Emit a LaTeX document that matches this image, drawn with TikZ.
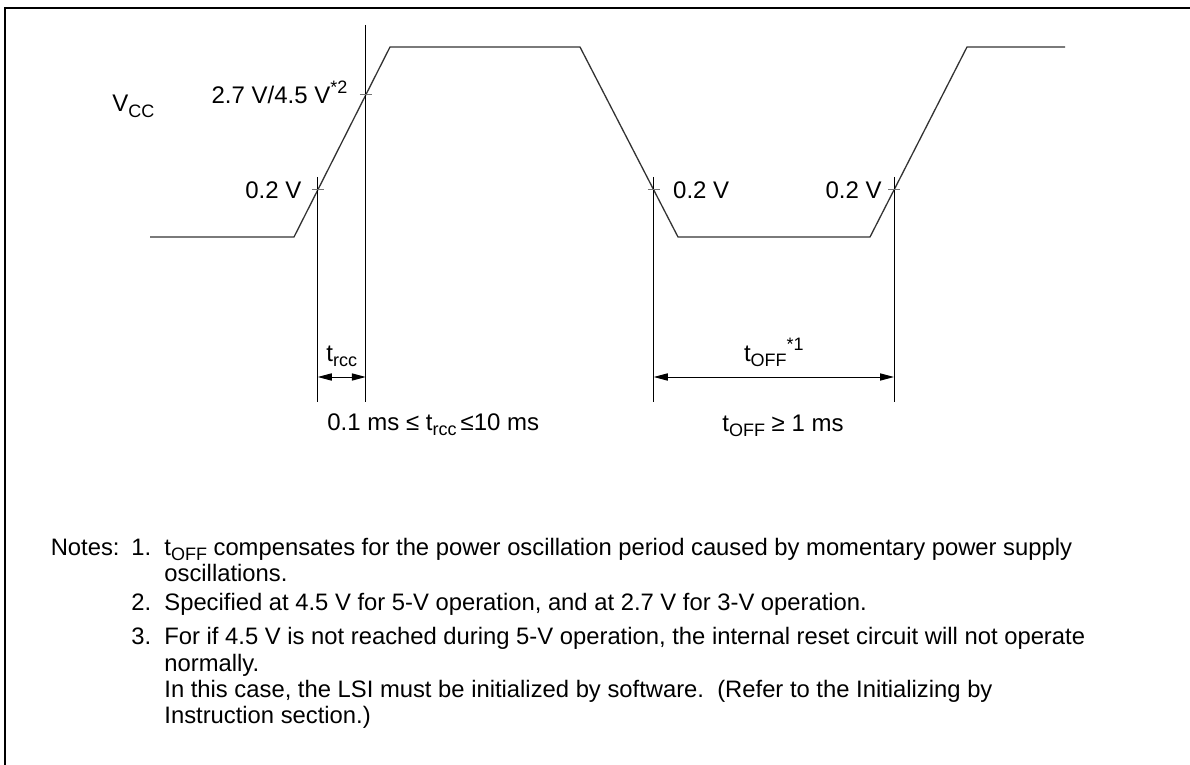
\documentclass[tikz,border=0pt]{standalone}
\usepackage{fontspec}
\setmainfont{Liberation Sans}
\usetikzlibrary{arrows.meta, positioning, calc}
\newcommand\lo[1]{\raisebox{-0.22em}{\fontsize{9}{9}\selectfont #1}}
\newcommand\hi[1]{\raisebox{0.42em}{\fontsize{9}{9}\selectfont #1}}

\begin{document}
\begin{tikzpicture}[x=0.5pt, y=-0.5pt,
    lbl/.style={font=\fontsize{12}{14}\selectfont, inner sep=0pt},
    note/.style={font=\fontsize{11.9}{14}\selectfont, anchor=base west, inner sep=0pt},
    wave/.style={line width=0.65pt, black!80},
    guide/.style={line width=0.5pt},
    tickmark/.style={line width=0.5pt, black!55},
    dim/.style={line width=0.5pt, {Triangle[length=7pt,width=3.6pt]}-{Triangle[length=7pt,width=3.6pt]}}]
  \useasboundingbox (0,0) rectangle (1190,765);
  % Frame (only top and left edges show)
  \draw[line width=0.75pt] (5,765) -- (5,8) -- (1190,8);
  % Vcc waveform
  \coordinate (w0) at (150,237);
  \coordinate (w1) at (294,237);
  \coordinate (w2) at (390,47);
  \coordinate (w3) at (580,47);
  \coordinate (w4) at (678,237);
  \coordinate (w5) at (870,237);
  \coordinate (w6) at (967,47);
  \coordinate (w7) at (1065,47);
  \draw[wave] (w0) -- (w1) -- (w2) -- (w3) -- (w4) -- (w5) -- (w6) -- (w7);
  % Level crossings
  \coordinate (riseLo) at ($(w1)!0.2474!(w2)$);
  \coordinate (riseHi) at ($(w1)!0.7474!(w2)$);
  \coordinate (fallLo) at ($(w3)!0.7526!(w4)$);
  \coordinate (riseLo2) at ($(w5)!0.2474!(w6)$);
  % Guide lines
  \coordinate (gbot) at (0,402);
  \coordinate (dimY) at (0,377);
  \draw[guide] ($(riseLo)+(0,-13)$) -- (riseLo |- gbot);
  \draw[guide] ($(riseHi)+(0,-70)$) -- (riseHi |- gbot);
  \draw[guide] ($(fallLo)+(0,-13)$) -- (fallLo |- gbot);
  \draw[guide] ($(riseLo2)+(0,-13)$) -- (riseLo2 |- gbot);
  \foreach \p in {riseLo, riseHi, fallLo, riseLo2}
    \draw[tickmark] ($(\p)+(-6,0)$) -- ($(\p)+(6,0)$);
  % Time intervals
  \coordinate (rccL) at (riseLo |- dimY);
  \coordinate (rccR) at (riseHi |- dimY);
  \coordinate (offL) at (fallLo |- dimY);
  \coordinate (offR) at (riseLo2 |- dimY);
  \draw[dim] (rccL) -- (rccR);
  \draw[dim] (offL) -- (offR);
  % Labels
  \node[lbl, anchor=base west] (vcc) at (112,112) {V\lo{CC}};
  \node[lbl, anchor=base east] (thr) at ($(riseHi)+(-18,9)$) {2.7 V/4.5 V\hi{*2}};
  \node[lbl, anchor=base east] (lvA) at ($(riseLo)+(-16,9)$) {0.2 V};
  \node[lbl, anchor=base west] (lvB) at ($(fallLo)+(19,9)$) {0.2 V};
  \node[lbl, anchor=base east] (lvC) at ($(riseLo2)+(-12,9)$) {0.2 V};
  \node[lbl, anchor=base] (trcc) at ($(rccL)!0.5!(rccR)+(0,-16)$) {t\lo{rcc}};
  \node[lbl, anchor=base] (toff) at ($(offL)!0.5!(offR)+(0,-16)$) {t\lo{OFF}\hi{*1}};
  \node[lbl, anchor=base west] (rccRange) at (327,430) {0.1 ms ≤ t\lo{rcc}\,≤10 ms};
  \node[lbl, anchor=base west] (offRange) at (722,431) {t\lo{OFF} ≥ 1 ms};
  % Notes
  \node[note, anchor=base east] (notesHd) at (120,555) {Notes:};
  \node[note] (n1num) at (131,555) {1.};
  \node[note] (n1a) at (164,555) {t\lo{OFF} compensates for the power oscillation period caused by momentary power supply};
  \node[note] (n1b) at (164,581) {oscillations.};
  \node[note] (n2num) at (131,610) {2.};
  \node[note] (n2a) at (164,610) {Specified at 4.5 V for 5-V operation, and at 2.7 V for 3-V operation.};
  \node[note] (n3num) at (131,644) {3.};
  \node[note] (n3a) at (164,644) {For if 4.5 V is not reached during 5-V operation, the internal reset circuit will not operate};
  \node[note] (n3b) at (164,671) {normally.};
  \node[note] (n3c) at (164,697) {In this case, the LSI must be initialized by software.\ \ (Refer to the Initializing by};
  \node[note] (n3d) at (164,723) {Instruction section.)};
\end{tikzpicture}
\end{document}
